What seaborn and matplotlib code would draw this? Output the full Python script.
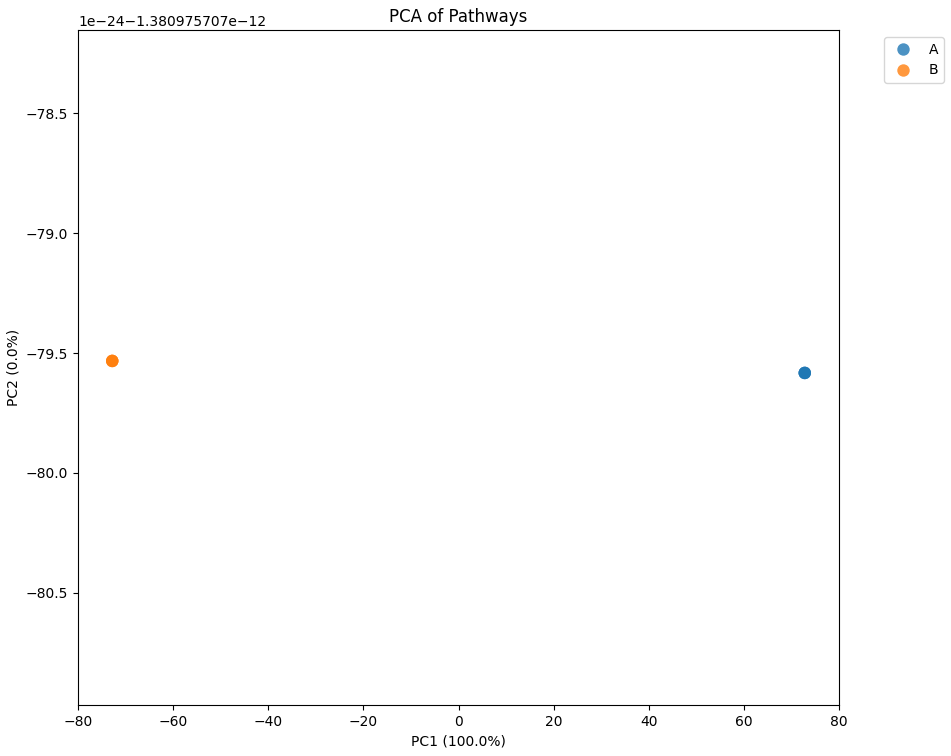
import numpy as np
import pandas as pd
import matplotlib
matplotlib.use("Agg")
import matplotlib.pyplot as plt
import seaborn as sns

# Data (PC scores); PC2 values expressed as base + small deviation (units of 1e-24)
samples = ["A1", "A2", "A3", "B1", "B2", "B3"]
groups = ["A", "A", "A", "B", "B", "B"]
pc1 = [72.8, 72.8, 72.8, -72.8, -72.8, -72.8]
pc2_base = -1.380975707e-12
pc2_dev = [-79.583, -79.583, -79.583, -79.533, -79.533, -79.533]
pc2 = [pc2_base + d * 1e-24 for d in pc2_dev]

df = pd.DataFrame({"Sample": samples, "Group": groups, "PC1": pc1, "PC2": pc2})

fig = plt.figure(figsize=(9.51, 7.56), dpi=100)
ax = fig.add_axes([78 / 951, 1 - 705 / 756, (839 - 78) / 951, (705 - 30) / 756])

sns.scatterplot(data=df, x="PC1", y="PC2", hue="Group", s=80, alpha=0.8,
                edgecolor="none", ax=ax)

ax.set_xlim(-80, 80)
ax.set_ylim(pc2_base - 80.967e-24, pc2_base - 78.154e-24)
ax.set_xlabel("PC1 (100.0%)")
ax.set_ylabel("PC2 (0.0%)")
ax.set_title("PCA of Pathways")
ax.legend(bbox_to_anchor=(1.05, 1), loc="upper left")

fig.savefig("out.png", dpi=100)
